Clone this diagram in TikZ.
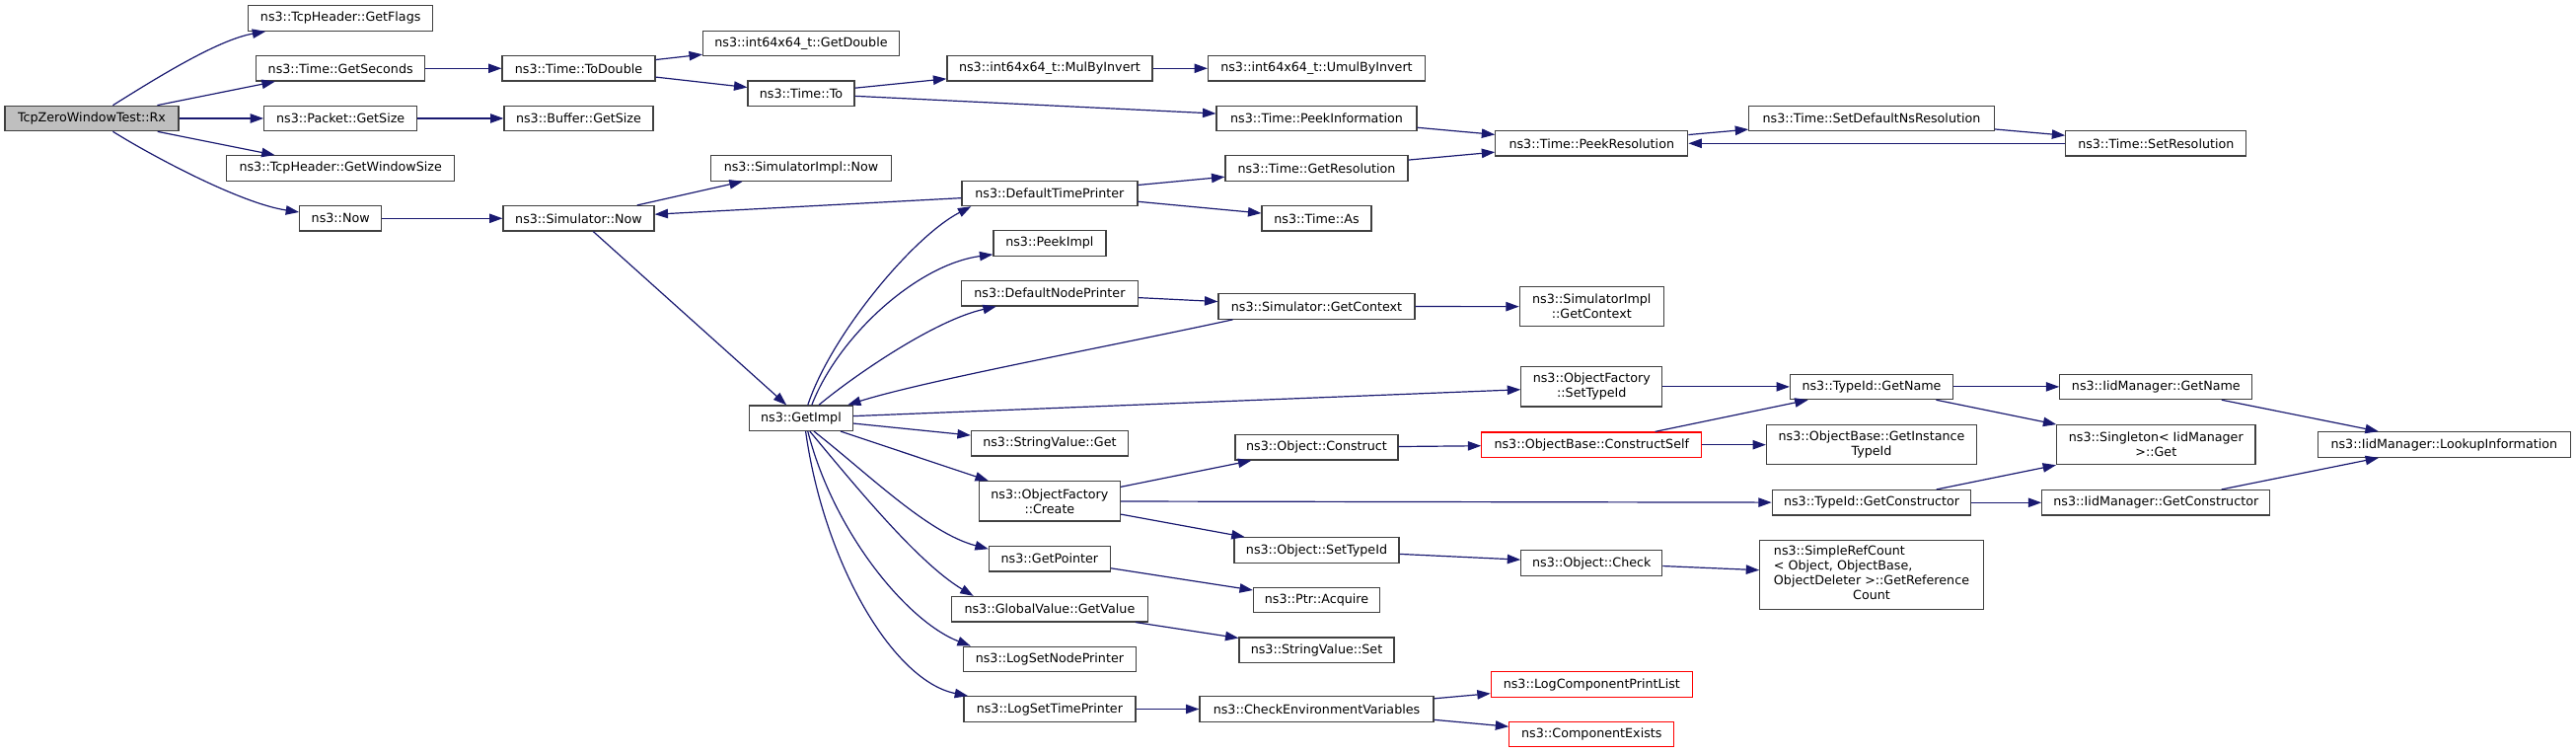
\documentclass[tikz,border=0pt]{standalone}
\usepackage{fontspec}
\setmainfont{DejaVu Sans}
\usetikzlibrary{arrows.meta}
\definecolor{edgeblue}{HTML}{191970}
\definecolor{boxgrey}{HTML}{404040}
\definecolor{rootgrey}{HTML}{BFBFBF}

\begin{document}
\begin{tikzpicture}[x=0.5pt, y=-0.5pt, font=\fontsize{6.35}{7.5}\selectfont,
 >={Triangle[length=6.7pt,width=4.7pt]},
 fn/.style={draw=boxgrey, fill=white, line width=0.6pt, inner sep=0pt,
            minimum height=12.75pt, align=center},
 root/.style={fn, fill=rootgrey},
 trunc/.style={fn, draw=red},
 wd/.style={minimum width=#1*0.5pt},
 ht/.style={minimum height=#1*0.5pt}]

    \useasboundingbox (0,0) rectangle (2611,763);

    \node[root, wd=176] (rx) at (93,120) {TcpZeroWindowTest::Rx};
    \node[fn, wd=187] (flags) at (345.2,18.5) {ns3::TcpHeader::GetFlags};
    \node[fn, wd=171] (secs) at (345.2,69.3) {ns3::Time::GetSeconds};
    \node[fn, wd=155] (pktsize) at (345.2,120) {ns3::Packet::GetSize};
    \node[fn, wd=231] (winsize) at (345.2,170.5) {ns3::TcpHeader::GetWindowSize};
    \node[fn, wd=83] (now) at (345.2,221.3) {ns3::Now};

    \node[fn, wd=155] (todouble) at (586.5,69.3) {ns3::Time::ToDouble};
    \node[fn, wd=151] (bufsize) at (586.5,120) {ns3::Buffer::GetSize};
    \node[fn, wd=153] (simnow) at (586.5,221.3) {ns3::Simulator::Now};

    \node[fn, wd=199] (getdouble) at (812,44) {ns3::int64x64\_t::GetDouble};
    \node[fn, wd=108] (timeto) at (812,94.7) {ns3::Time::To};
    \node[fn, wd=183] (implnow) at (812,170.5) {ns3::SimulatorImpl::Now};
    \node[fn, wd=105] (getimpl) at (812,423.7) {ns3::GetImpl};

    \node[fn, wd=208] (mulby) at (1063.9,69.3) {ns3::int64x64\_t::MulByInvert};
    \node[fn, wd=178] (dtp) at (1063.9,195.9) {ns3::DefaultTimePrinter};
    \node[fn, wd=114] (peekimpl) at (1063.9,246.5) {ns3::PeekImpl};
    \node[fn, wd=179] (dnp) at (1063.9,297.2) {ns3::DefaultNodePrinter};
    \node[fn, wd=159] (svget) at (1063.9,449.2) {ns3::StringValue::Get};
    \node[fn, wd=143, ht=40.3] (create) at (1063.9,507.9) {ns3::ObjectFactory\\::Create};
    \node[fn, wd=123] (getptr) at (1063.9,566.2) {ns3::GetPointer};
    \node[fn, wd=199] (gvget) at (1063.9,617.2) {ns3::GlobalValue::GetValue};
    \node[fn, wd=175] (lsnp) at (1063.9,667.9) {ns3::LogSetNodePrinter};
    \node[fn, wd=174] (lstp) at (1063.9,718.5) {ns3::LogSetTimePrinter};

    \node[fn, wd=220] (umul) at (1334.5,69.3) {ns3::int64x64\_t::UmulByInvert};
    \node[fn, wd=203] (peekinfo) at (1334.5,120) {ns3::Time::PeekInformation};
    \node[fn, wd=185] (getres) at (1334.5,170.5) {ns3::Time::GetResolution};
    \node[fn, wd=111] (timeas) at (1334.5,221.3) {ns3::Time::As};
    \node[fn, wd=199] (simctx) at (1334.5,310.5) {ns3::Simulator::GetContext};
    \node[fn, wd=165] (construct) at (1334.5,453.3) {ns3::Object::Construct};
    \node[fn, wd=167] (objtid) at (1334.5,557.5) {ns3::Object::SetTypeId};
    \node[fn, wd=128] (acquire) at (1334.5,608) {ns3::Ptr::Acquire};
    \node[fn, wd=157] (svset) at (1334.5,658.7) {ns3::StringValue::Set};
    \node[fn, wd=237] (checkenv) at (1334.5,718.5) {ns3::CheckEnvironmentVariables};

    \node[fn, wd=195] (peekres) at (1613.3,145.3) {ns3::Time::PeekResolution};
    \node[fn, wd=146, ht=40] (implctx) at (1613.3,310.7) {ns3::SimulatorImpl\\::GetContext};
    \node[fn, wd=143, ht=40.3] (oftid) at (1613.3,391.9) {ns3::ObjectFactory\\::SetTypeId};
    \node[trunc, wd=223] (cself) at (1613.3,450.7) {ns3::ObjectBase::ConstructSelf};
    \node[fn, wd=143] (check) at (1613.3,570.5) {ns3::Object::Check};
    \node[trunc, wd=204] (printlist) at (1613.3,693.5) {ns3::LogComponentPrintList};
    \node[trunc, wd=167] (compexists) at (1613.3,743.9) {ns3::ComponentExists};

    \node[fn, wd=248.5] (setdefns) at (1897,120) {ns3::Time::SetDefaultNsResolution};
    \node[fn, wd=165] (tidname) at (1897,391.9) {ns3::TypeId::GetName};
    \node[fn, wd=213, ht=40] (instance) at (1897,450.7) {ns3::ObjectBase::GetInstance\\TypeId};
    \node[fn, wd=201.5] (tidctor) at (1897,509.3) {ns3::TypeId::GetConstructor};
    \node[fn, wd=226.5, ht=69.6] (refcount) at (1897,582.5) {\begin{tabular}{@{}l@{}}ns3::SimpleRefCount\\< Object, ObjectBase,\\\multicolumn{1}{@{}c@{}}{ObjectDeleter >::GetReference}\\\multicolumn{1}{@{}c@{}}{Count}\end{tabular}};

    \node[fn, wd=183] (setres) at (2185.3,145.3) {ns3::Time::SetResolution};
    \node[fn, wd=195] (iidname) at (2185.3,391.9) {ns3::IidManager::GetName};
    \node[fn, wd=201.4, ht=40] (singleton) at (2185.3,450.7) {ns3::Singleton< IidManager\\>::Get};
    \node[fn, wd=231] (iidctor) at (2185.3,509.3) {ns3::IidManager::GetConstructor};
    \node[fn, wd=256] (lookup) at (2477.3,450.5) {ns3::IidManager::LookupInformation};

    \begin{scope}[edgeblue, line width=0.6pt]
    \draw[->] (rx) .. controls (153.6,82.3) and (219.4,40.6) .. (flags);
    \draw[->] (rx) -- (secs);
    \draw[->] (rx) -- (pktsize);
    \draw[->] (rx) -- (winsize);
    \draw[->] (rx) .. controls (153.6,157.7) and (243.5,206) .. (now);
    \draw[->] (secs) -- (todouble);
    \draw[->] (pktsize) -- (bufsize);
    \draw[->] (now) -- (simnow);
    \draw[->] (todouble) -- (getdouble);
    \draw[->] (todouble) -- (timeto);
    \draw[->] (timeto) -- (mulby);
    \draw[->] (timeto) -- (peekinfo);
    \draw[->] (mulby) -- (umul);
    \draw[->] (peekinfo) -- (peekres);
    \draw[->] (getres) -- (peekres);
    \draw[->] (peekres) -- (setdefns);
    \draw[->] (setdefns) -- (setres);
    \draw[->] (setres) -- (peekres);
    \draw[->] (simnow) -- (implnow);
    \draw[->] (simnow) -- (getimpl);
    \draw[->] (dtp) -- (simnow);
    \draw[->] (dtp) -- (getres);
    \draw[->] (dtp) -- (timeas);
    \draw[->] ([xshift=3.4pt]getimpl.north) .. controls (842,340) and (925,240) .. ([xshift=5pt]dtp.south west);
    \draw[->] ([xshift=5.4pt]getimpl.north) .. controls (850,340) and (930,268) .. ([yshift=1pt]peekimpl.south west);
    \draw[->] ([xshift=9pt]getimpl.north) .. controls (860,385) and (945,325) .. ([xshift=18pt]dnp.south west);
    \draw[->] (dnp) -- (simctx);
    \draw[->] (simctx) -- (implctx);
    \draw[->] ([xshift=7.6pt]simctx.south west) .. controls (1130,350) and (940,385) .. ([xshift=-3pt]getimpl.north east);
    \draw[->] (getimpl) -- (oftid);
    \draw[->] (getimpl) -- (svget);
    \draw[->] (getimpl) -- (create);
    \draw[->] ([xshift=6.5pt]getimpl.south) .. controls (880,480) and (940,540) .. ([yshift=-1.7pt]getptr.north west);
    \draw[->] ([xshift=4.4pt]getimpl.south) .. controls (865,490) and (930,570) .. ([xshift=11.4pt]gvget.north west);
    \draw[->] ([xshift=3.4pt]getimpl.south) .. controls (845,540) and (920,630) .. ([xshift=4pt]lsnp.north west);
    \draw[->] ([xshift=2.3pt]getimpl.south) .. controls (835,570) and (905,690) .. ([xshift=2.4pt]lstp.north west);
    \draw[->] (oftid) -- (tidname);
    \draw[->] (create) -- (construct);
    \draw[->] (create) -- (tidctor);
    \draw[->] (create) -- (objtid);
    \draw[->] (construct) -- (cself);
    \draw[->] (cself) -- (tidname);
    \draw[->] (cself) -- (instance);
    \draw[->] (tidname) -- (iidname);
    \draw[->] (tidname) -- (singleton);
    \draw[->] (tidctor) -- (singleton);
    \draw[->] (tidctor) -- (iidctor);
    \draw[->] (iidname) -- (lookup);
    \draw[->] (iidctor) -- (lookup);
    \draw[->] (objtid) -- (check);
    \draw[->] (check) -- (refcount);
    \draw[->] (getptr) -- (acquire);
    \draw[->] (gvget) -- (svset);
    \draw[->] (lstp) -- (checkenv);
    \draw[->] (checkenv) -- (printlist);
    \draw[->] (checkenv) -- (compexists);
    \end{scope}
\end{tikzpicture}
\end{document}
